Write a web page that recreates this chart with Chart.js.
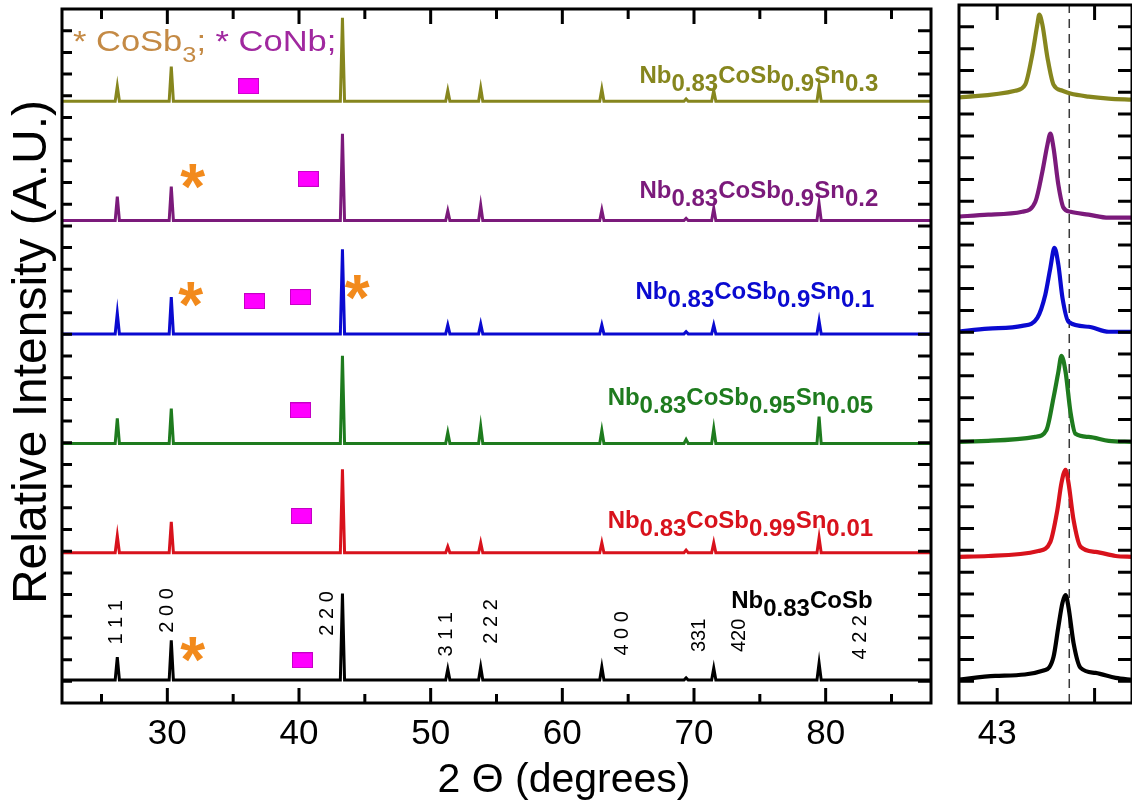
<!DOCTYPE html>
<html><head><meta charset="utf-8">
<script src="https://cdn.jsdelivr.net/npm/chart.js@4.4.1/dist/chart.umd.min.js"></script>
<style>
html,body{margin:0;padding:0;background:#fff;width:1132px;height:803px;overflow:hidden;}
#main{position:absolute;left:0;top:0;}
#zoom{position:absolute;left:940px;top:0;}
</style></head><body>
<canvas id="main" width="940" height="803"></canvas>
<canvas id="zoom" width="192" height="803"></canvas>
<script>
// ================= DATA =================
// Bragg peak positions (2θ, degrees) of the half-Heusler reflections
const peakPos = [26.2, 30.3, 43.3, 51.3, 53.8, 63.0, 69.4, 71.5, 79.5];
const hklLabels = ['1 1 1', '2 0 0', '2 2 0', '3 1 1', '2 2 2', '4 0 0', '331', '420', '4 2 2'];

// series (bottom to top)
const seriesKeys = ['x0', 'x001', 'x005', 'x01', 'x02', 'x03'];
const baselines = [1.06, 6.93, 11.97, 17.02, 22.25, 27.75];
// peak heights above baseline for each series (same order as peakPos)
const hX0   = [1.05, 1.83, 3.99, 0.50, 0.60, 0.60, 0.10, 0.55, 0.78];
const hX001 = [0.78, 1.42, 3.85, 0.28, 0.46, 0.46, 0.12, 0.46, 0.69];
const hX005 = [1.15, 1.60, 4.04, 0.50, 0.78, 0.60, 0.18, 0.69, 1.24];
const hX01  = [0.96, 1.70, 3.90, 0.41, 0.46, 0.41, 0.10, 0.41, 0.60];
const hX02  = [1.10, 1.56, 4.00, 0.44, 0.70, 0.48, 0.10, 0.56, 0.78];
const hX03  = [0.69, 1.60, 3.85, 0.49, 0.61, 0.56, 0.10, 0.49, 0.68];
const heights = [hX0, hX001, hX005, hX01, hX02, hX03];

// sample names: [text, isSubscript]
const names = [
  [['Nb',0],['0.83',1],['CoSb',0]],
  [['Nb',0],['0.83',1],['CoSb',0],['0.99',1],['Sn',0],['0.01',1]],
  [['Nb',0],['0.83',1],['CoSb',0],['0.95',1],['Sn',0],['0.05',1]],
  [['Nb',0],['0.83',1],['CoSb',0],['0.9',1],['Sn',0],['0.1',1]],
  [['Nb',0],['0.83',1],['CoSb',0],['0.9',1],['Sn',0],['0.2',1]],
  [['Nb',0],['0.83',1],['CoSb',0],['0.9',1],['Sn',0],['0.3',1]]
];

// impurity markers (2θ, intensity)
const coNbX = [36.17, 40.71, 36.62, 40.11, 40.11, 40.18, 40.26];
const coNbY = [28.44, 24.17, 18.53, 18.72, 13.49, 8.62, 1.97];
const coSb3X = [31.92, 31.77, 44.42, 31.92];
const coSb3Y = [24.08, 18.62, 18.94, 2.25];

// zoomed (220) reflection traces: [2θ, intensity]
const z03 = [[42.794,27.75],[43.093,28.07],[43.144,28.35],[43.180,29.72],[43.206,31.10],[43.216,31.56],[43.232,31.10],[43.258,29.59],[43.289,28.35],[43.335,28.07],[43.376,27.94],[43.469,27.80],[43.572,27.71],[43.696,27.66]];
const z02 = [[42.794,22.29],[42.954,22.39],[43.129,22.52],[43.196,22.98],[43.232,24.36],[43.258,25.60],[43.273,26.10],[43.289,25.46],[43.314,23.76],[43.340,22.71],[43.376,22.52],[43.469,22.39],[43.572,22.25],[43.696,22.25]];
const z01 = [[42.794,17.02],[42.954,17.16],[43.129,17.29],[43.206,17.66],[43.247,18.72],[43.273,19.95],[43.294,20.87],[43.314,20.09],[43.335,18.58],[43.366,17.48],[43.469,17.25],[43.572,17.02],[43.696,17.02]];
const z005 = [[42.794,11.97],[42.954,12.02],[43.196,12.20],[43.253,12.52],[43.289,13.99],[43.314,15.18],[43.330,15.92],[43.351,15.18],[43.376,13.35],[43.402,12.34],[43.469,12.20],[43.572,12.02],[43.696,11.97]];
const z001 = [[42.794,6.70],[42.954,6.74],[43.211,6.97],[43.273,7.39],[43.309,8.85],[43.330,10.09],[43.351,10.69],[43.366,10.09],[43.392,8.39],[43.428,7.16],[43.505,6.93],[43.608,6.74],[43.696,6.70]];
const z0 = [[42.794,1.06],[42.990,1.24],[43.247,1.51],[43.289,2.11],[43.314,3.49],[43.335,4.59],[43.351,4.95],[43.366,4.40],[43.392,2.75],[43.428,1.61],[43.505,1.38],[43.608,1.15],[43.696,1.06]];
const zoomTraces = [z0, z001, z005, z01, z02, z03];
const refLine = 43.37;

// axis ranges / ticks
const mainX = {min: 22, max: 88, step: 5, labelEvery: 10};
const zoomX = {min: 42.804, max: 43.692, step: 0.5, labels: [43]};
const yRange = {min: 0, max: 32, step: 1};

// ================= STYLE =================
const FONT = '"Liberation Sans", Arial, Helvetica, sans-serif';
Chart.defaults.font.family = FONT;
const colors = ['#000000', '#D8121C', '#1E7B1E', '#0A0AD0', '#7B1A7B', '#86861E'];
const annot = {
  labelX: [72.83, 63.44, 63.44, 65.56, 65.86, 65.86],
  labelY: [4.36, 8.07, 13.72, 18.62, 23.30, 28.58],
  hklX: [26.17, 30.03, 42.15, 51.17, 54.65, 64.58, 70.41, 73.44, 82.61],
  hklY: [3.72, 4.27, 4.13, 3.17, 3.76, 3.21, 3.12, 3.12, 3.03]
};

// build stick-like XRD traces from baseline + read peak heights
function buildTrace(base, hs) {
  const pts = [{x: mainX.min, y: base}];
  peakPos.forEach((p, i) => {
    pts.push({x: p - 0.16, y: base});
    pts.push({x: p, y: base + hs[i]});
    pts.push({x: p + 0.16, y: base});
  });
  pts.push({x: mainX.max, y: base});
  return pts;
}

// square marker image
const sq = document.createElement('canvas');
sq.width = 21; sq.height = 16;
(function(){ const c = sq.getContext('2d'); c.fillStyle = '#FF00FF'; c.fillRect(0,0,21,16); c.strokeStyle = '#C400C4'; c.lineWidth = 1; c.strokeRect(0.5,0.5,20,15); })();

function drawFrame(ctx, a, xs, ys, o) {
  ctx.save();
  ctx.strokeStyle = '#000';
  ctx.lineWidth = 3;
  ctx.lineCap = 'butt';
  xs.ticks.forEach(t => {
    const px = xs.getPixelForValue(t.value);
    const major = o.isMajor(t.value);
    ctx.beginPath();
    ctx.moveTo(px, a.bottom); ctx.lineTo(px, a.bottom - (major ? o.xMajB : o.xMinB));
    ctx.moveTo(px, a.top); ctx.lineTo(px, a.top + (major ? o.xMajT : o.xMinT));
    ctx.stroke();
  });
  ys.ticks.forEach(t => {
    if (t.value <= ys.min || t.value >= ys.max) return;
    const py = ys.getPixelForValue(t.value);
    ctx.beginPath();
    ctx.moveTo(a.left, py); ctx.lineTo(a.left + o.yL, py);
    ctx.moveTo(a.right, py); ctx.lineTo(a.right - o.yR, py);
    ctx.stroke();
  });
  ctx.strokeRect(a.left, a.top, a.right - a.left, a.bottom - a.top);
  ctx.restore();
}

const mainDecor = {
  id: 'mainDecor',
  afterDraw(chart) {
    const {ctx, chartArea: a, scales: {x, y}} = chart;
    ctx.save();
    // CoSb3 asterisks
    ctx.fillStyle = '#F28A1C';
    const af = 64;
    ctx.font = 'bold ' + af + 'px ' + FONT;
    ctx.textAlign = 'center'; ctx.textBaseline = 'alphabetic';
    coSb3X.forEach((v, i) => ctx.fillText('*', x.getPixelForValue(v), y.getPixelForValue(coSb3Y[i]) + 0.44 * af));
    // hkl labels
    ctx.fillStyle = '#000';
    ctx.font = '20px ' + FONT;
    ctx.textAlign = 'center'; ctx.textBaseline = 'middle';
    hklLabels.forEach((s, i) => {
      ctx.save();
      ctx.translate(x.getPixelForValue(annot.hklX[i]), y.getPixelForValue(annot.hklY[i]));
      ctx.rotate(-Math.PI / 2);
      ctx.fillText(s, 0, 0);
      ctx.restore();
    });
    // sample names
    ctx.textAlign = 'left'; ctx.textBaseline = 'alphabetic';
    ctx.font = 'bold 24px ' + FONT;
    names.forEach((parts, i) => {
      let px = x.getPixelForValue(annot.labelX[i]);
      const py = y.getPixelForValue(annot.labelY[i]);
      ctx.fillStyle = colors[i];
      parts.forEach(([t, sub]) => {
        ctx.fillText(t, px, py + (sub ? 8 : 0));
        px += ctx.measureText(t).width;
      });
    });
    // phase legend
    ctx.save();
    ctx.translate(73, 51);
    ctx.scale(1.15, 1);
    let lx = 0;
    const leg = [['* CoSb', '#C48A45', 30, 0], ['3', '#C48A45', 22, 11], [';', '#C48A45', 30, 0], [' * CoNb;', '#A0289F', 30, 0]];
    leg.forEach(([t, c, fs, dy]) => {
      ctx.font = fs + 'px ' + FONT;
      ctx.fillStyle = c;
      ctx.fillText(t, lx, dy);
      lx += ctx.measureText(t).width;
    });
    ctx.restore();
    // frame
    drawFrame(ctx, a, x, y, {isMajor: v => v % mainX.labelEvery === 0, xMajB: 15, xMinB: 9, xMajT: 15, xMinT: 10, yL: 10, yR: 13});
    // axis titles
    ctx.fillStyle = '#000';
    ctx.font = '41px ' + FONT;
    ctx.textAlign = 'center'; ctx.textBaseline = 'alphabetic';
    ctx.fillText('2 \u0398 (degrees)', 564, 792);
    ctx.save();
    ctx.translate(33, 352);
    ctx.rotate(-Math.PI / 2);
    ctx.font = '48px ' + FONT;
    ctx.textBaseline = 'middle';
    ctx.fillText('Relative Intensity (A.U.)', 0, 0);
    ctx.restore();
    ctx.restore();
  }
};

const zoomDecor = {
  id: 'zoomDecor',
  afterDraw(chart) {
    const {ctx, chartArea: a, scales: {x, y}} = chart;
    drawFrame(ctx, a, x, y, {isMajor: () => true, xMajB: 15, xMinB: 15, xMajT: 15, xMinT: 15, yL: 15, yR: 14});
  }
};

function yScale() {
  return {
    type: 'linear', min: yRange.min, max: yRange.max,
    ticks: {display: false, stepSize: yRange.step, maxTicksLimit: 100},
    grid: {display: false, drawTicks: false}, border: {display: false},
    afterFit: s => { s.width = 0; }
  };
}

// ================= MAIN CHART =================
const mainDatasets = heights.map((hs, i) => ({
  type: 'line', label: seriesKeys[i], data: buildTrace(baselines[i], hs),
  borderColor: colors[i], borderWidth: 3, pointRadius: 0, tension: 0, fill: false, order: 2
}));
mainDatasets.push({
  type: 'scatter', label: 'CoNb', data: coNbX.map((v, i) => ({x: v, y: coNbY[i]})),
  pointStyle: sq, pointRadius: 8, showLine: false, order: 1
});

new Chart(document.getElementById('main'), {
  type: 'line',
  data: {datasets: mainDatasets},
  options: {
    responsive: false, animation: false, events: [],
    layout: {padding: {left: 62, right: 5, top: 5, bottom: 0}},
    plugins: {legend: {display: false}, tooltip: {enabled: false}},
    scales: {
      x: {
        type: 'linear', min: mainX.min, max: mainX.max,
        ticks: {stepSize: mainX.step, includeBounds: false, autoSkip: false, maxRotation: 0, maxTicksLimit: 100,
          color: '#000', font: {size: 35}, padding: 10,
          callback: v => (v % mainX.labelEvery === 0 ? String(v) : '')},
        grid: {display: false, drawTicks: false}, border: {display: false},
        afterFit: s => { s.height = 100; }
      },
      y: yScale()
    }
  },
  plugins: [mainDecor]
});

// ================= ZOOM CHART =================
const zoomDatasets = zoomTraces.map((tr, i) => ({
  type: 'line', label: seriesKeys[i] + '-220', data: tr.map(([a, b]) => ({x: a, y: b})),
  borderColor: colors[i], borderWidth: 4.2, pointRadius: 0, cubicInterpolationMode: 'monotone', fill: false,
  borderJoinStyle: 'round', borderCapStyle: 'round'
}));
zoomDatasets.push({
  type: 'line', label: 'ref', data: [{x: refLine, y: yRange.min}, {x: refLine, y: yRange.max}],
  borderColor: '#3a3a3a', borderWidth: 1.5, borderDash: [9, 6], pointRadius: 0
});

new Chart(document.getElementById('zoom'), {
  type: 'line',
  data: {datasets: zoomDatasets},
  options: {
    responsive: false, animation: false, events: [],
    layout: {padding: {left: 19, right: 0, top: 5, bottom: 0}},
    plugins: {legend: {display: false}, tooltip: {enabled: false}},
    scales: {
      x: {
        type: 'linear', min: zoomX.min, max: zoomX.max,
        ticks: {stepSize: zoomX.step, includeBounds: false, autoSkip: false, maxRotation: 0, maxTicksLimit: 100,
          color: '#000', font: {size: 35}, padding: 10,
          callback: v => (zoomX.labels.includes(v) ? String(v) : '')},
        grid: {display: false, drawTicks: false}, border: {display: false},
        afterFit: s => { s.height = 100; }
      },
      y: yScale()
    }
  },
  plugins: [zoomDecor]
});
</script>
</body></html>
